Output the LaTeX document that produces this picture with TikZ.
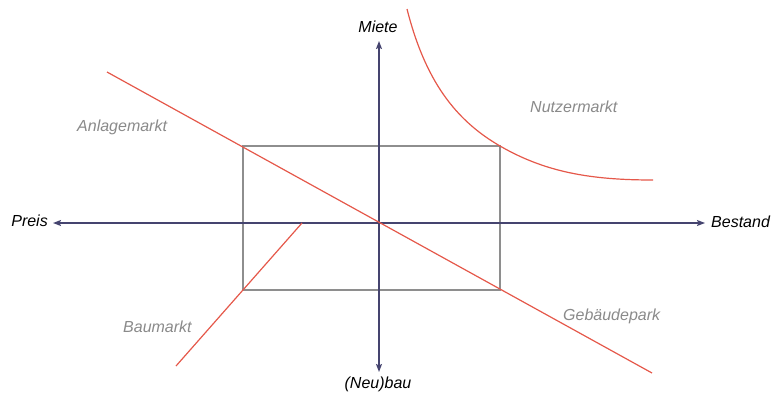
\documentclass[tikz,border=0pt]{standalone}
\usepackage{fontspec}
\setmainfont{Liberation Sans}
\usetikzlibrary{arrows.meta}
\definecolor{axiscol}{HTML}{45446F}
\definecolor{rectcol}{HTML}{8E8E8E}
\definecolor{redcol}{HTML}{E5584A}
\definecolor{graytext}{HTML}{8A8A8A}
\begin{document}
\begin{tikzpicture}[x=1pt,y=-1pt,
  axisline/.style={draw=axiscol, line width=1.4pt, {Stealth[length=8pt,width=6pt,inset=1.5pt]}-{Stealth[length=8pt,width=6pt,inset=1.5pt]}},
  rectline/.style={draw=rectcol, line width=1.3pt},
  redline/.style={draw=redcol, line width=1.2pt},
  axlabel/.style={inner sep=0pt, font=\fontsize{16}{19}\selectfont\itshape, text=black},
  mktlabel/.style={inner sep=0pt, font=\fontsize{16}{19}\selectfont\itshape, text=graytext}]
\useasboundingbox (0,0) rectangle (773,394);
% axes
\coordinate (O) at (379,223);
\coordinate (axL) at (53,223);
\coordinate (axR) at (705,223);
\coordinate (axT) at (379,41);
\coordinate (axB) at (379,372);
% rectangle corners
\coordinate (rTL) at (243,146);
\coordinate (rBR) at (500,290);
\draw[rectline] (rTL) rectangle (rBR);
\draw[axisline] (axL) -- (axR);
\draw[axisline] (axT) -- (axB);
% red lines
\coordinate (g1) at (107,72);
\coordinate (g2) at (652,373);
\draw[redline] (g1) -- (g2);
\coordinate (b1) at (302,223);
\coordinate (b2) at (176,366);
\draw[redline] (b1) -- (b2);
\coordinate (n1) at (407,9);
\coordinate (n2) at (500,146);
\coordinate (n3) at (653,180);
\draw[redline] (n1) .. controls (425,80) and (455,120) .. (n2)
               .. controls (545,172) and (590,180) .. (n3);
% axis labels
\node[axlabel, anchor=base east] (preis) at (48,226) {Preis};
\node[axlabel, anchor=base west] (bestand) at (711,227) {Bestand};
\node[axlabel, anchor=base] (miete) at (378,32) {Miete};
\node[axlabel, anchor=base] (neubau) at (378,388) {(Neu)bau};
% market labels
\node[mktlabel, anchor=base west] (anlage) at (77,131) {Anlagemarkt};
\node[mktlabel, anchor=base west] (nutzer) at (530,112) {Nutzermarkt};
\node[mktlabel, anchor=base west] (gebaeude) at (563,320) {Gebäudepark};
\node[mktlabel, anchor=base west] (bau) at (123,332) {Baumarkt};
\end{tikzpicture}
\end{document}
